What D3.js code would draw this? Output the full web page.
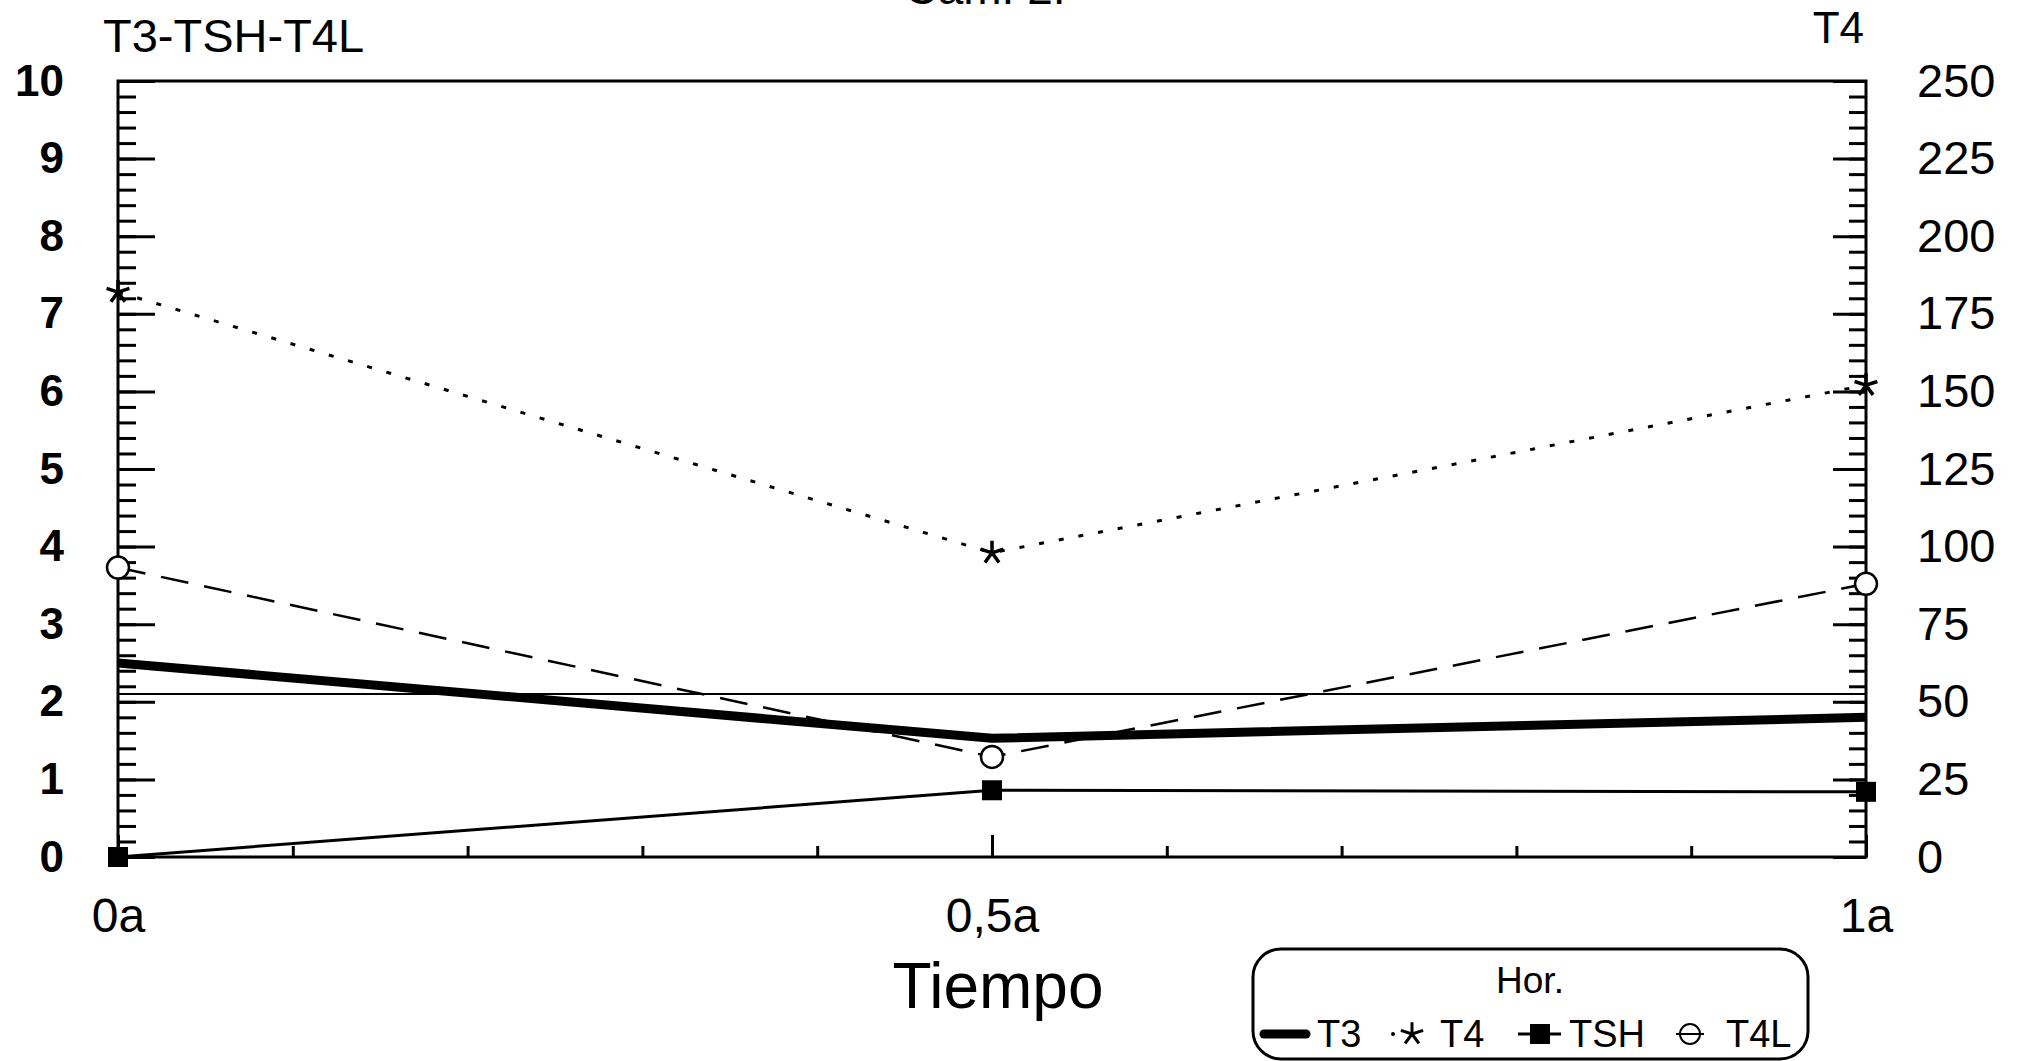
<!DOCTYPE html>
<html>
<head>
<meta charset="utf-8">
<script src="https://cdn.jsdelivr.net/npm/d3@7"></script>
<style>
  body { margin: 0; background: #fff; }
  svg { display: block; font-family: "Liberation Sans", Arial, sans-serif; }
  .axis path { display: none; }
  .axis line { stroke: #000; stroke-width: 3; }
  .axis text { fill: #000; }
</style>
</head>
<body>
<svg id="main"></svg>
<script>
// data
var times = [0, 0.5, 1];
var timeLabels = ["0a", "0,5a", "1a"];
var t3 = [2.5, 1.53, 1.8];
var t4 = [182, 98, 152];
var tsh = [0, 0.86, 0.84];
var t4l = [3.73, 1.29, 3.52];
var refValue = 2.1;
var leftTicks = [0, 1, 2, 3, 4, 5, 6, 7, 8, 9, 10];
var rightTicks = [0, 25, 50, 75, 100, 125, 150, 175, 200, 225, 250];
var legendNames = ["T3", "T4", "TSH", "T4L"];

var w = 2020;
var h = 1061;
var padLeft = 118, padRight = 1866, padTop = 81, padBottom = 857;

var svg = d3.select("#main")
  .attr("width", w)
  .attr("height", h);

var x = d3.scaleLinear().domain([0, 1]).range([padLeft, padRight]);
var yL = d3.scaleLinear().domain([0, 10]).range([padBottom, padTop]);
var yR = d3.scaleLinear().domain([0, 250]).range([padBottom, padTop]);

// frame
svg.append("rect")
  .attr("x", padLeft).attr("y", padTop)
  .attr("width", padRight - padLeft).attr("height", padBottom - padTop)
  .attr("fill", "none").attr("stroke", "#000").attr("stroke-width", 3);

// left axis: minor then major
svg.append("g").attr("class", "axis")
  .attr("transform", "translate(" + padLeft + ",0)")
  .call(d3.axisLeft(yL).tickValues(d3.range(0, 10.01, 0.2)).tickSize(-18).tickFormat(""));
svg.append("g").attr("class", "axis")
  .attr("transform", "translate(" + padLeft + ",0)")
  .call(d3.axisLeft(yL).tickValues(leftTicks).tickSize(-37).tickPadding(54))
  .selectAll("text")
  .style("font-size", "44px").style("font-weight", "bold");

// right axis
svg.append("g").attr("class", "axis")
  .attr("transform", "translate(" + padRight + ",0)")
  .call(d3.axisRight(yR).tickValues(d3.range(0, 251, 5)).tickSize(-17).tickFormat(""));
svg.append("g").attr("class", "axis")
  .attr("transform", "translate(" + padRight + ",0)")
  .call(d3.axisRight(yR).tickValues(rightTicks).tickSize(-33).tickPadding(51))
  .selectAll("text")
  .style("font-size", "47px");

// bottom axis
svg.append("g").attr("class", "axis")
  .attr("transform", "translate(0," + padBottom + ")")
  .call(d3.axisBottom(x).tickValues(d3.range(0, 1.01, 0.1)).tickSize(-11).tickFormat(""));
svg.append("g").attr("class", "axis")
  .attr("transform", "translate(0," + padBottom + ")")
  .call(d3.axisBottom(x).tickValues(times).tickSize(-22).tickPadding(41)
    .tickFormat(function(d, i) { return timeLabels[i]; }))
  .selectAll("text")
  .style("font-size", "48px");

// reference line
svg.append("line")
  .attr("x1", padLeft).attr("x2", padRight)
  .attr("y1", yL(refValue)).attr("y2", yL(refValue))
  .attr("stroke", "#000").attr("stroke-width", 2);

// star symbol (5 arms)
var star = {
  draw: function(ctx, size) {
    var r = Math.sqrt(size) * 0.6;
    for (var k = 0; k < 5; k++) {
      var a = -Math.PI / 2 + k * 2 * Math.PI / 5;
      ctx.moveTo(0, 0);
      ctx.lineTo(r * Math.cos(a), r * Math.sin(a));
    }
  }
};

function drawSeries(values, yScale, dash, width) {
  var line = d3.line()
    .x(function(d, i) { return x(times[i]); })
    .y(function(d) { return yScale(d); });
  svg.append("path")
    .datum(values)
    .attr("d", line)
    .attr("fill", "none")
    .attr("stroke", "#000")
    .attr("stroke-width", width)
    .attr("stroke-dasharray", dash);
}

drawSeries(tsh, yL, null, 3);
drawSeries(t4l, yL, "28,16", 2.5);
drawSeries(t4, yR, "5,15", 3);
drawSeries(t3, yL, null, 9);

// markers
svg.selectAll(".tsh").data(tsh).enter().append("rect")
  .attr("x", function(d, i) { return x(times[i]) - 10; })
  .attr("y", function(d) { return yL(d) - 10; })
  .attr("width", 20).attr("height", 20)
  .attr("fill", "#000");

svg.selectAll(".t4l").data(t4l).enter().append("circle")
  .attr("cx", function(d, i) { return x(times[i]); })
  .attr("cy", function(d) { return yL(d); })
  .attr("r", 11)
  .attr("fill", "#fff").attr("stroke", "#000").attr("stroke-width", 2.5);

svg.selectAll(".t4").data(t4).enter().append("path")
  .attr("transform", function(d, i) { return "translate(" + x(times[i]) + "," + yR(d) + ")"; })
  .attr("d", d3.symbol().type(star).size(400))
  .attr("fill", "none").attr("stroke", "#000").attr("stroke-width", 3.5);

// titles
svg.append("text").attr("x", 985).attr("y", 4)
  .attr("text-anchor", "middle").style("font-size", "46px").text("Cam. 2.");
svg.append("text").attr("x", 103).attr("y", 52)
  .style("font-size", "47px").text("T3-TSH-T4L");
svg.append("text").attr("x", 1864).attr("y", 43)
  .attr("text-anchor", "end").style("font-size", "44px").text("T4");
svg.append("text").attr("x", 998).attr("y", 1008)
  .attr("text-anchor", "middle").style("font-size", "64px").text("Tiempo");

// legend
var lg = svg.append("g");
lg.append("rect")
  .attr("x", 1253).attr("y", 949).attr("width", 555).attr("height", 110)
  .attr("rx", 28).attr("fill", "#fff").attr("stroke", "#000").attr("stroke-width", 3);
lg.append("text").attr("x", 1530).attr("y", 993)
  .attr("text-anchor", "middle").style("font-size", "37px").text("Hor.");

var ly = 1034;
var textX = [1317, 1440, 1569, 1726];
lg.selectAll(".lt").data(legendNames).enter().append("text")
  .attr("x", function(d, i) { return textX[i]; })
  .attr("y", 1047)
  .style("font-size", "38px")
  .text(function(d) { return d; });

// T3 sample
lg.append("line").attr("x1", 1264).attr("x2", 1306).attr("y1", ly).attr("y2", ly)
  .attr("stroke", "#000").attr("stroke-width", 9).attr("stroke-linecap", "round");
// T4 sample
lg.append("circle").attr("cx", 1393).attr("cy", ly).attr("r", 2).attr("fill", "#000");
lg.append("path").attr("transform", "translate(1412," + ly + ")")
  .attr("d", d3.symbol().type(star).size(380))
  .attr("fill", "none").attr("stroke", "#000").attr("stroke-width", 3);
// TSH sample
lg.append("line").attr("x1", 1518).attr("x2", 1561).attr("y1", ly).attr("y2", ly)
  .attr("stroke", "#000").attr("stroke-width", 3);
lg.append("rect").attr("x", 1530).attr("y", ly - 10).attr("width", 20).attr("height", 20).attr("fill", "#000");
// T4L sample
lg.append("circle").attr("cx", 1690).attr("cy", ly).attr("r", 10)
  .attr("fill", "#fff").attr("stroke", "#000").attr("stroke-width", 2);
lg.append("line").attr("x1", 1676).attr("x2", 1704).attr("y1", ly).attr("y2", ly)
  .attr("stroke", "#000").attr("stroke-width", 2);
</script>
</body>
</html>
